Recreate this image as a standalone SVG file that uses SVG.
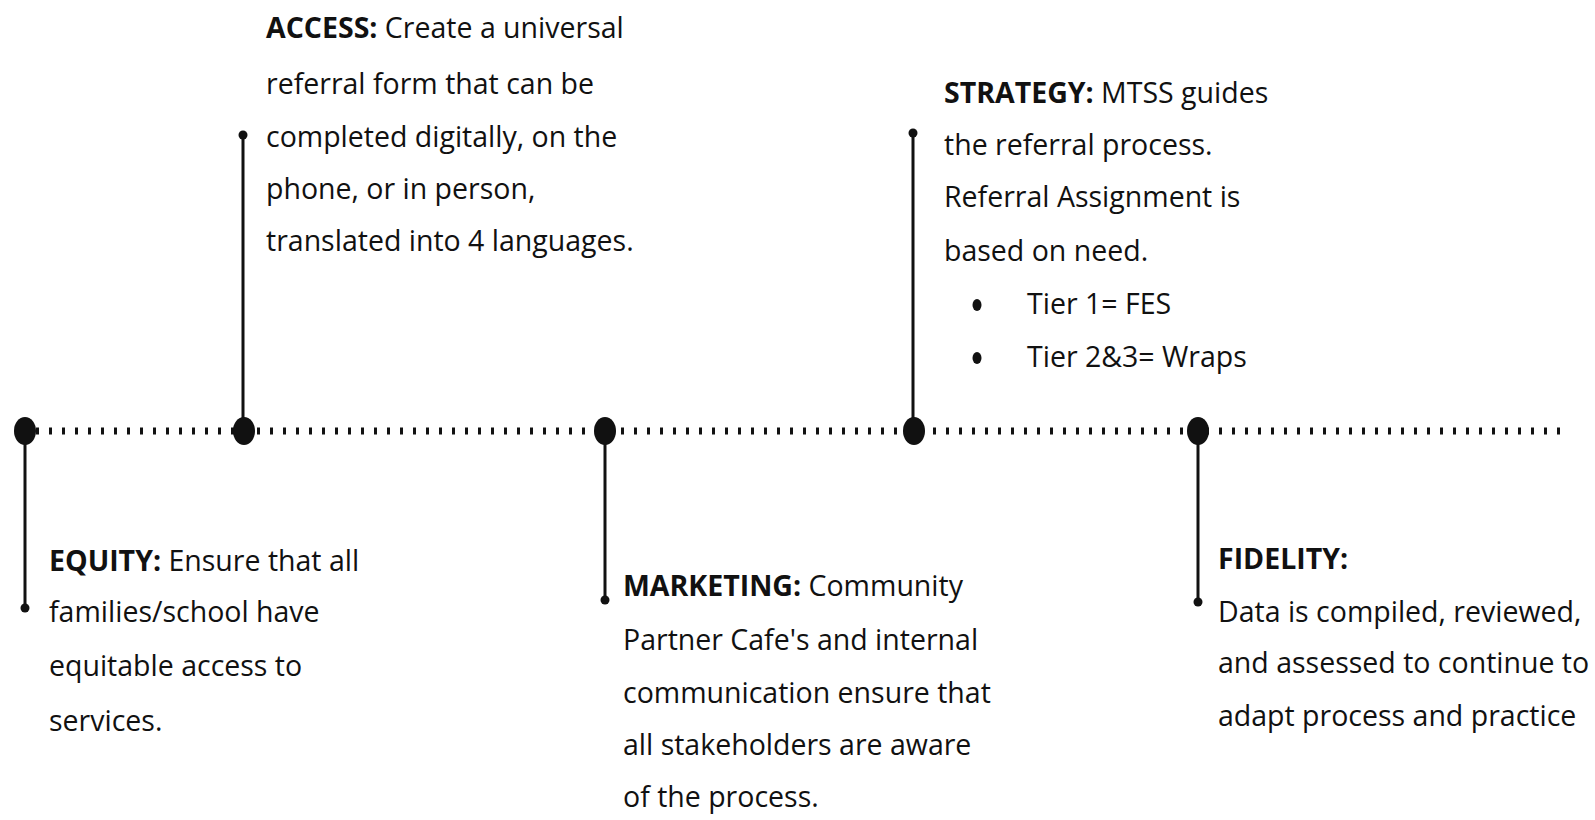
<svg xmlns="http://www.w3.org/2000/svg" width="1595" height="820" viewBox="0 0 1595 820">
<style>
.t{font-family:"Open Sans","Noto Sans","Liberation Sans",sans-serif;font-size:28.5px;fill:#111}
.b{font-weight:700}
.stem{stroke:#111;stroke-width:3;fill:none}
.big{fill:#111}
.dot{fill:#111}
</style>
<rect width="1595" height="820" fill="#fff"/>
<g id="connectors">
<line x1="36" y1="431" x2="1562" y2="431" stroke="#111" stroke-width="7" stroke-dasharray="3 10"/>
<line class="stem" x1="25" y1="431" x2="25" y2="608"/>
<line class="stem" x1="243" y1="431" x2="243" y2="135"/>
<line class="stem" x1="605" y1="431" x2="605" y2="600"/>
<line class="stem" x1="913" y1="431" x2="913" y2="133"/>
<line class="stem" x1="1198" y1="431" x2="1198" y2="602"/>
</g>
<g id="equity">
<ellipse class="big" cx="25" cy="431" rx="11" ry="14"/>
<circle class="dot" cx="25" cy="608" r="4.5"/>
<text class="t" x="49"><tspan x="49" y="571"><tspan class="b">EQUITY:</tspan> Ensure that all</tspan><tspan x="49" y="622">families/school have</tspan><tspan x="49" y="676">equitable access to</tspan><tspan x="49" y="731">services.</tspan></text>
</g>
<g id="access">
<ellipse class="big" cx="244" cy="431" rx="11" ry="14"/>
<circle class="dot" cx="243" cy="135" r="4.5"/>
<text class="t"><tspan x="266" y="38"><tspan class="b">ACCESS:</tspan> Create a universal</tspan><tspan x="266" y="94">referral form that can be</tspan><tspan x="266" y="147">completed digitally, on the</tspan><tspan x="266" y="199">phone, or in person,</tspan><tspan x="266" y="251">translated into 4 languages.</tspan></text>
</g>
<g id="marketing">
<ellipse class="big" cx="605" cy="431" rx="11" ry="14"/>
<circle class="dot" cx="605" cy="600" r="4.5"/>
<text class="t"><tspan x="623" y="596"><tspan class="b">MARKETING:</tspan> Community</tspan><tspan x="623" y="650">Partner Cafe's and internal</tspan><tspan x="623" y="703">communication ensure that</tspan><tspan x="623" y="755">all stakeholders are aware</tspan><tspan x="623" y="807">of the process.</tspan></text>
</g>
<g id="strategy">
<ellipse class="big" cx="914" cy="431" rx="11" ry="14"/>
<circle class="dot" cx="913" cy="133" r="4.5"/>
<text class="t"><tspan x="944" y="103"><tspan class="b">STRATEGY:</tspan> MTSS guides</tspan><tspan x="944" y="155">the referral process.</tspan><tspan x="944" y="207">Referral Assignment is</tspan><tspan x="944" y="261">based on need.</tspan><tspan x="1027" y="314">Tier 1= FES</tspan><tspan x="1027" y="367">Tier 2&amp;3= Wraps</tspan></text>
<ellipse class="dot" cx="977" cy="305" rx="4.5" ry="6"/>
<ellipse class="dot" cx="977" cy="358" rx="4.5" ry="6"/>
</g>
<g id="fidelity">
<ellipse class="big" cx="1198" cy="431" rx="11" ry="14"/>
<circle class="dot" cx="1198" cy="602" r="4.5"/>
<text class="t"><tspan x="1218" y="569" class="b">FIDELITY:</tspan><tspan x="1218" y="622">Data is compiled, reviewed,</tspan><tspan x="1218" y="673">and assessed to continue to</tspan><tspan x="1218" y="726">adapt process and practice</tspan></text>
</g>
</svg>
